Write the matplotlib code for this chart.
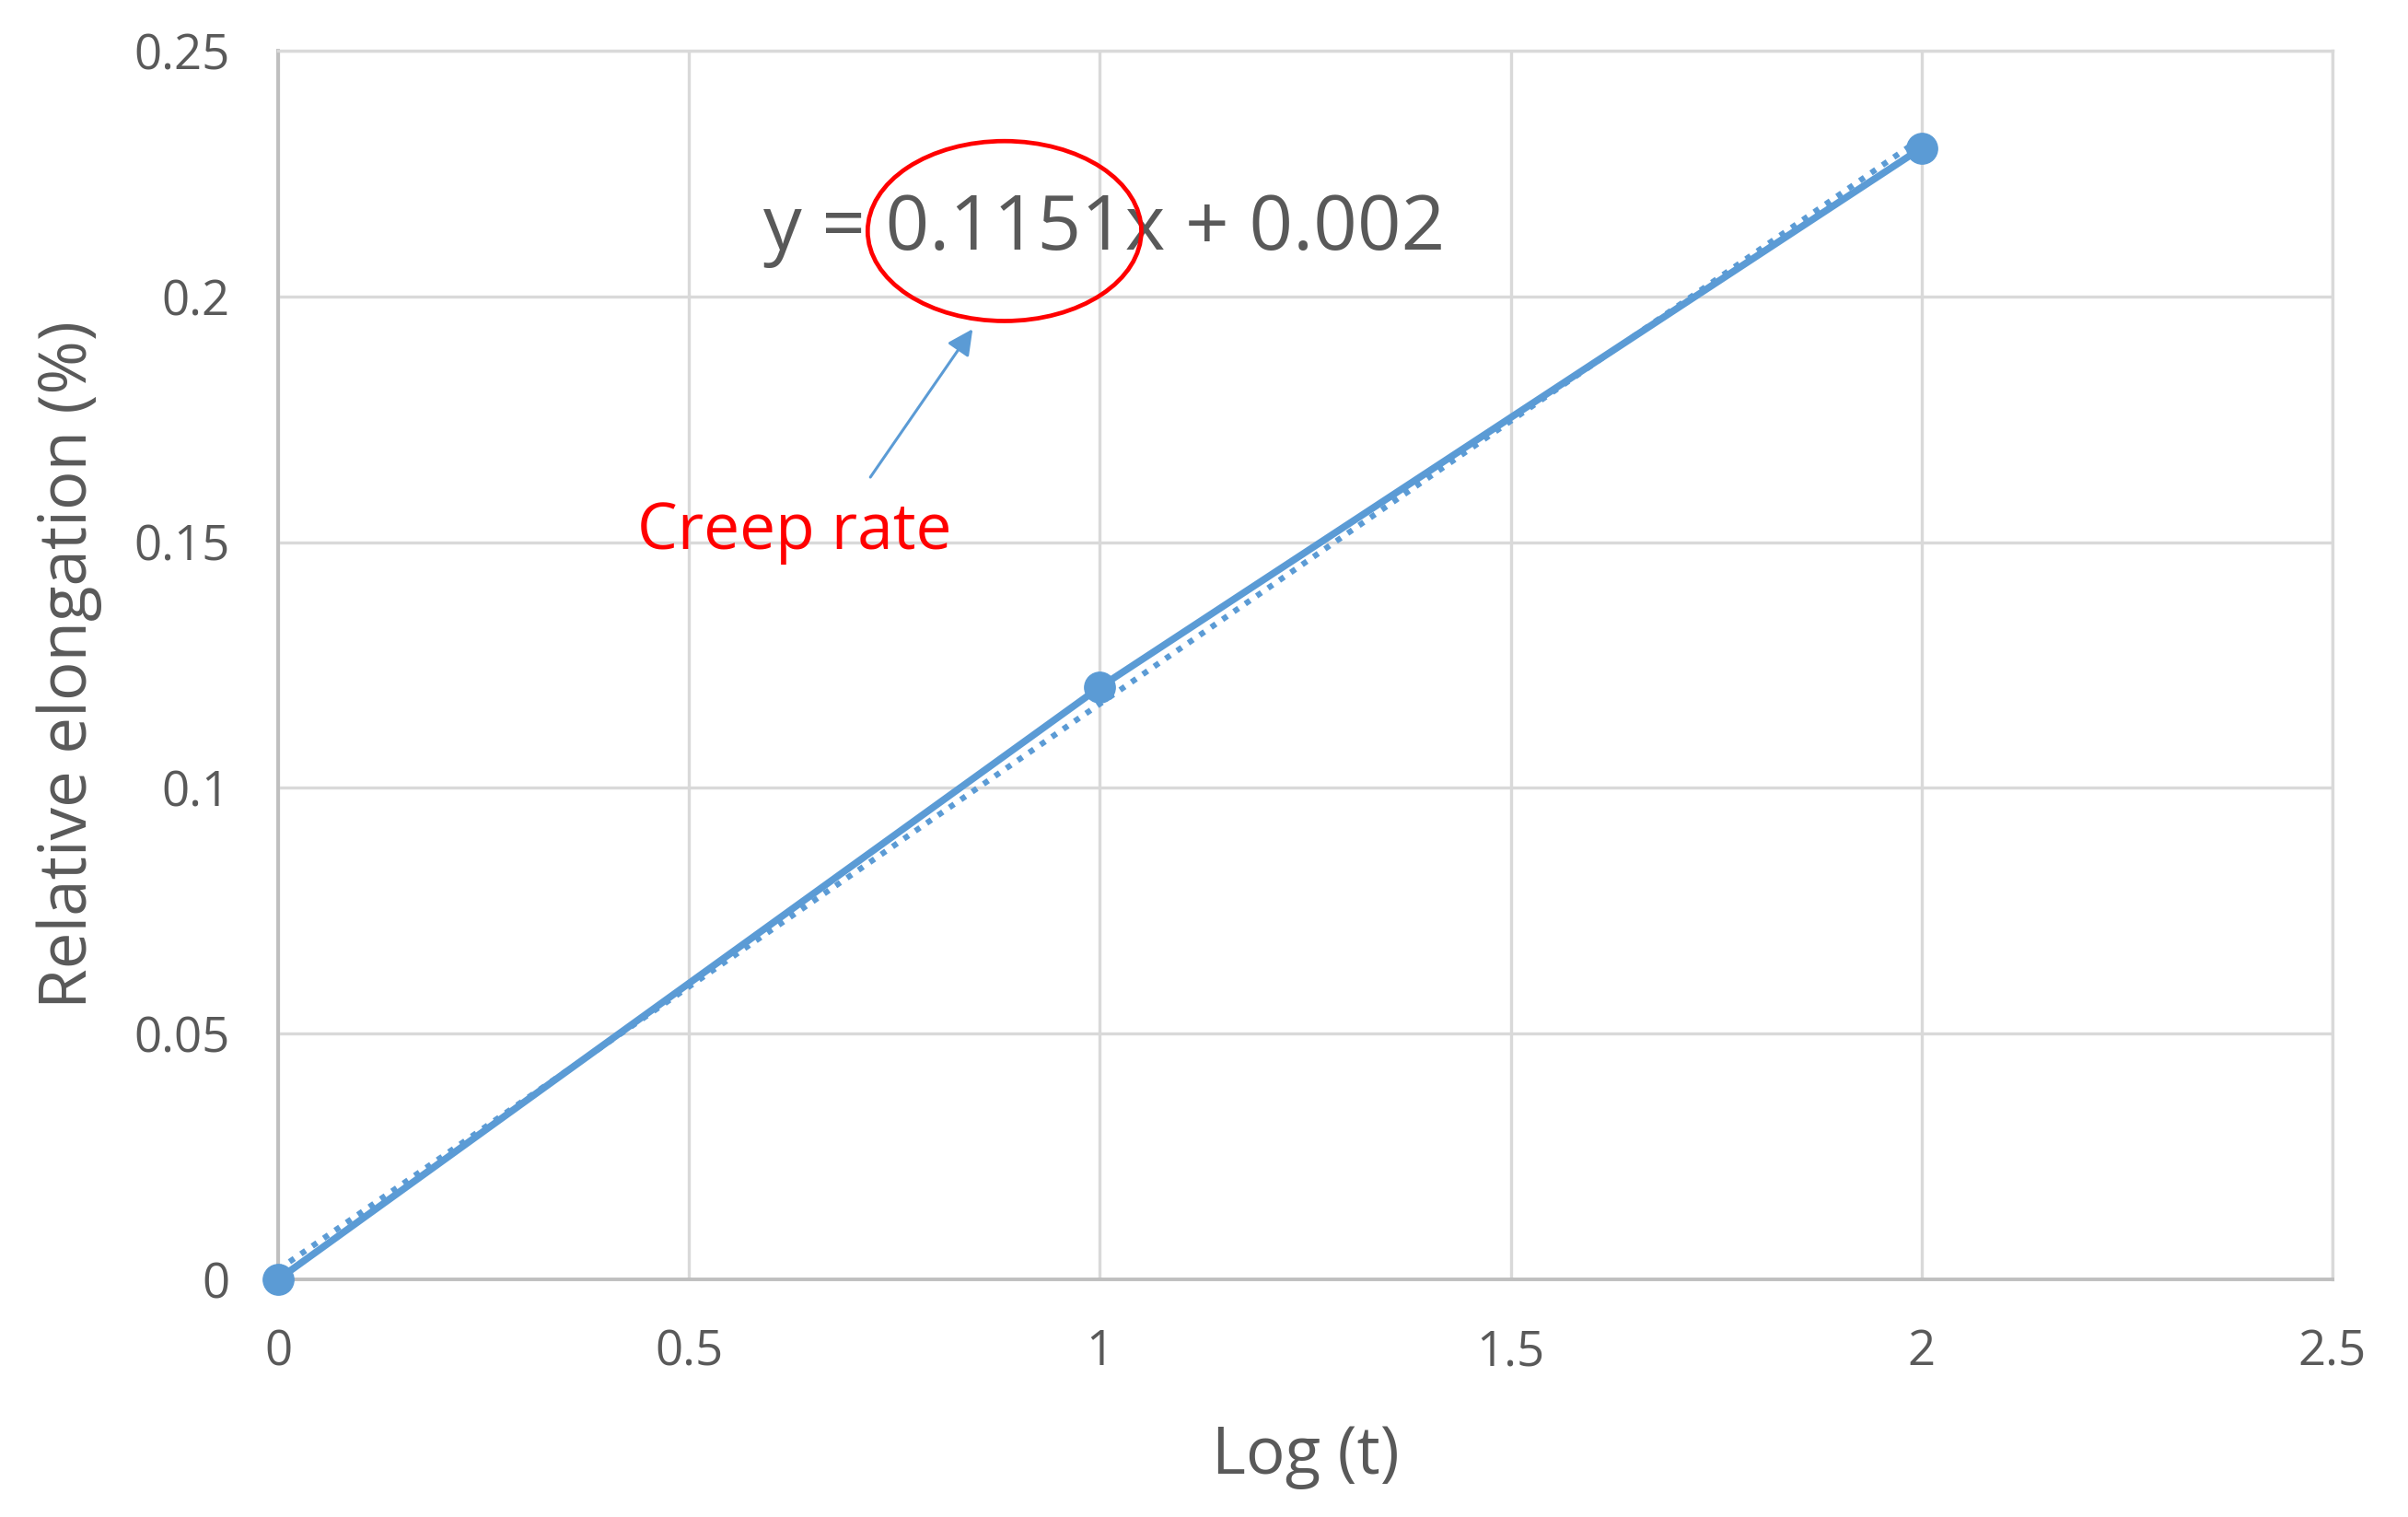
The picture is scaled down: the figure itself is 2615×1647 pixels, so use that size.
import matplotlib.pyplot as plt
from matplotlib.patches import Ellipse

plt.rcParams['font.family'] = ['Open Sans', 'DejaVu Sans']

# data
log_t = [0, 1, 2]
elongation = [0.0, 0.1205, 0.2302]
slope, intercept = 0.1151, 0.002
x_ticks = [0, 0.5, 1, 1.5, 2, 2.5]
x_tick_labels = ['0', '0.5', '1', '1.5', '2', '2.5']
y_ticks = [0, 0.05, 0.1, 0.15, 0.2, 0.25]
y_tick_labels = ['0', '0.05', '0.1', '0.15', '0.2', '0.25']

blue = '#5B9BD5'
gray = '#595959'

fig = plt.figure(figsize=(26.15, 16.47), dpi=100)
ax = fig.add_axes([0.1155, 0.1566, 0.8531, 0.81])

# trend line (dotted)
trend_x = [log_t[0], log_t[-1]]
trend_y = [slope * v + intercept for v in trend_x]
ax.plot(trend_x, trend_y, color=blue, lw=4.5, linestyle=(0, (1, 1.4)), zorder=3)

# data series
ax.plot(log_t, elongation, color=blue, lw=5.5, marker='o', markersize=24, zorder=4,
        clip_on=False)

ax.set_xlim(0, 2.5)
ax.set_ylim(0, 0.25)
ax.set_xticks(x_ticks)
ax.set_xticklabels(x_tick_labels)
ax.set_yticks(y_ticks)
ax.set_yticklabels(y_tick_labels)
ax.tick_params(length=0, labelsize=38, labelcolor=gray)
ax.tick_params(axis='x', pad=38)
ax.tick_params(axis='y', pad=38)

ax.grid(True, color='#d9d9d9', lw=2.4)
ax.set_axisbelow(True)
for side in ['left', 'bottom']:
    ax.spines[side].set_color('#bfbfbf')
    ax.spines[side].set_linewidth(2.8)
for side in ['top', 'right']:
    ax.spines[side].set_color('#d9d9d9')
    ax.spines[side].set_linewidth(2.4)

ax.set_xlabel('Log (t)', fontsize=51, color=gray, va='center')
ax.xaxis.set_label_coords(0.5, -0.144)
ax.set_ylabel('Relative elongation (%)', fontsize=51, color=gray, va='center')
ax.yaxis.set_label_coords(-0.1017, 0.5)

# equation, highlight ellipse and annotation
ax.text(0.59, 0.2135, 'y = 0.1151x + 0.002', fontsize=60, color=gray, va='center', ha='left')
ax.add_patch(Ellipse((0.884, 0.2133), 0.333, 0.0366, fill=False, edgecolor='red', lw=3.4,
                     zorder=5))
ax.annotate('', xy=(0.847, 0.1938), xytext=(0.719, 0.1628),
            arrowprops=dict(arrowstyle='-|>', color=blue, lw=2.2, mutation_scale=42))
ax.text(0.437, 0.152, 'Creep rate', fontsize=50, color='#ff0000', va='center', ha='left')

fig.savefig('out.png', dpi=100)
